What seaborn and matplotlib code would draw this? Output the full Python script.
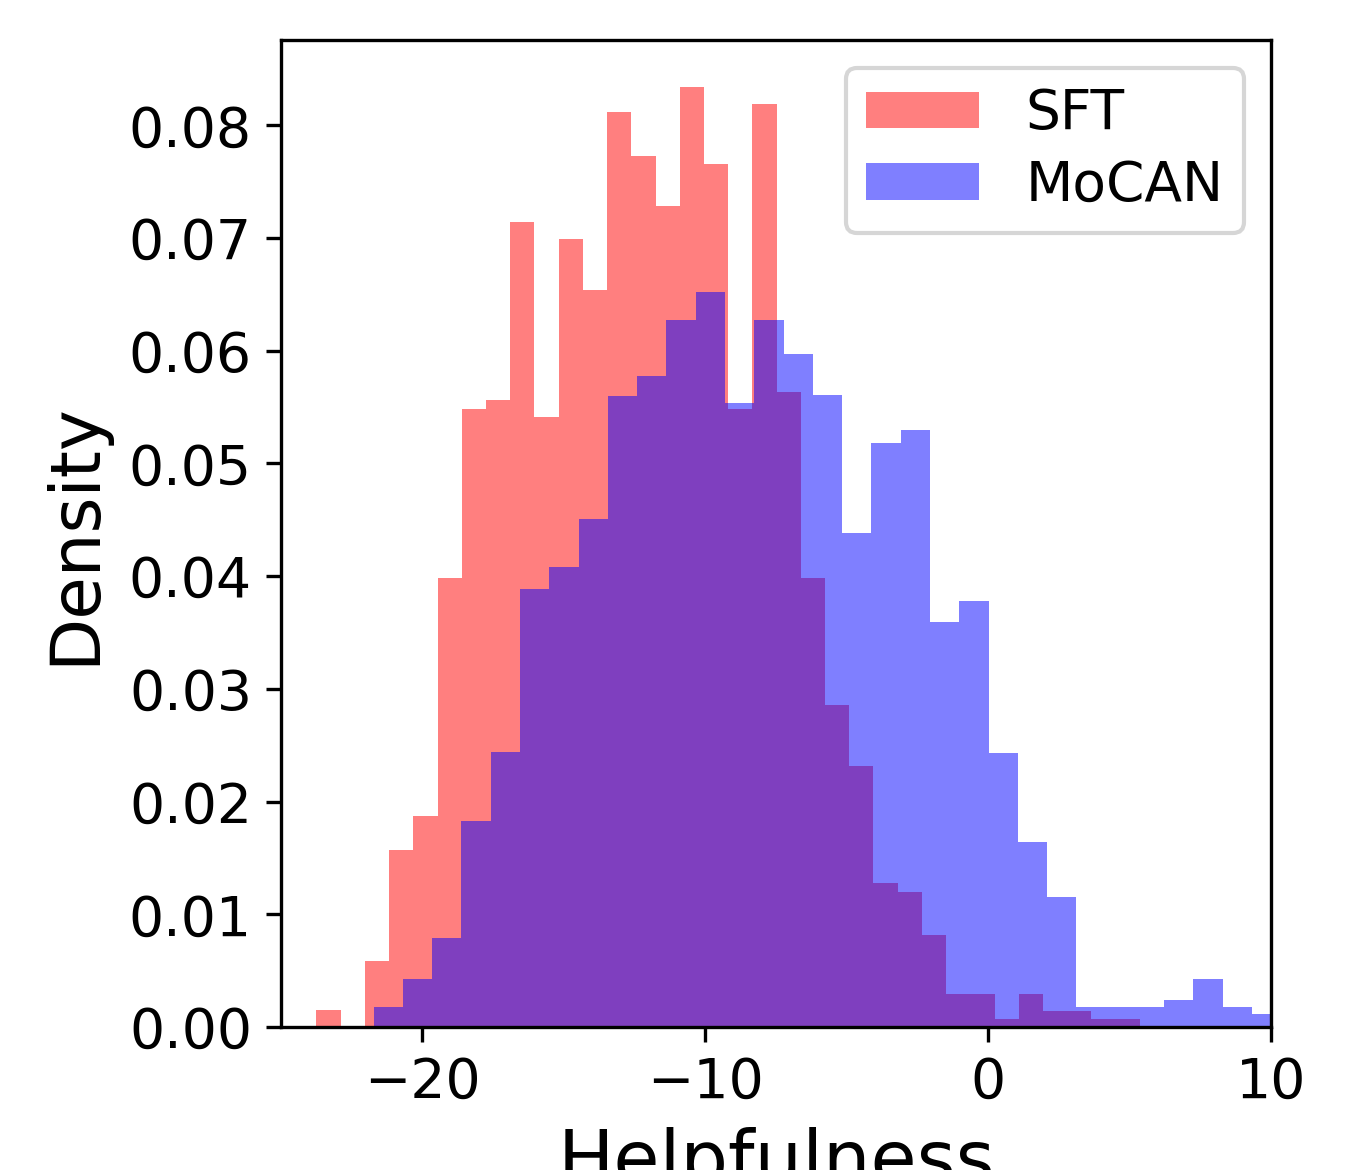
import numpy as np
import pandas as pd
import seaborn as sns
import matplotlib
matplotlib.use("Agg")
import matplotlib.pyplot as plt

# histogram bins (density values)
sft_start, sft_width = -23.75, 0.8563
sft_density = [0.0015, 0.0, 0.0059, 0.0157, 0.0187, 0.0398, 0.0548, 0.0556,
               0.0714, 0.0541, 0.0699, 0.0654, 0.0812, 0.0773, 0.0728, 0.0834,
               0.0766, 0.0548, 0.0819, 0.0563, 0.0398, 0.0286, 0.0232, 0.0128,
               0.0120, 0.0082, 0.0029, 0.0029, 0.0007, 0.0029, 0.0014, 0.0014,
               0.0007, 0.0007]

mocan_start, mocan_width = -21.73, 1.0353
mocan_density = [0.0018, 0.0043, 0.0079, 0.0183, 0.0244, 0.0389, 0.0408, 0.0451,
                 0.0560, 0.0578, 0.0627, 0.0652, 0.0554, 0.0627, 0.0597, 0.0561,
                 0.0438, 0.0518, 0.0530, 0.0359, 0.0378, 0.0243, 0.0164, 0.0115,
                 0.0018, 0.0018, 0.0018, 0.0024, 0.0043, 0.0018, 0.0012]

labels = ["SFT", "MoCAN"]
colors = ["red", "blue"]

fig = plt.figure(figsize=(1367 / 300, 1170 / 300), dpi=300)
fig.subplots_adjust(left=0.2056, right=0.9298, bottom=0.1222, top=0.9658)
ax = fig.gca()

for start, width, dens, lab, col in zip([sft_start, mocan_start],
                                        [sft_width, mocan_width],
                                        [sft_density, mocan_density],
                                        labels, colors):
    edges = start + width * np.arange(len(dens) + 1)
    df = pd.DataFrame({"x": (edges[:-1] + edges[1:]) / 2, "w": dens})
    sns.histplot(data=df, x="x", weights="w", bins=edges.tolist(), stat="count",
                 color=col, alpha=0.5, linewidth=0, label=lab, ax=ax)

ax.set_xlim(-25, 10)
ax.set_xticks([-20, -10, 0, 10])
ax.set_yticks(np.arange(0, 0.081, 0.01))
ax.yaxis.set_major_formatter(matplotlib.ticker.FormatStrFormatter("%.2f"))
ax.tick_params(labelsize=13.3)
ax.set_xlabel("Helpfulness", fontsize=18)
ax.set_ylabel("Density", fontsize=16.6, labelpad=5)
ax.legend(fontsize=13.2, loc="upper right", handlelength=2.05,
          handleheight=0.65, labelspacing=0.32, borderpad=0.36,
          handletextpad=0.85)

plt.savefig("out.png", dpi=300)
